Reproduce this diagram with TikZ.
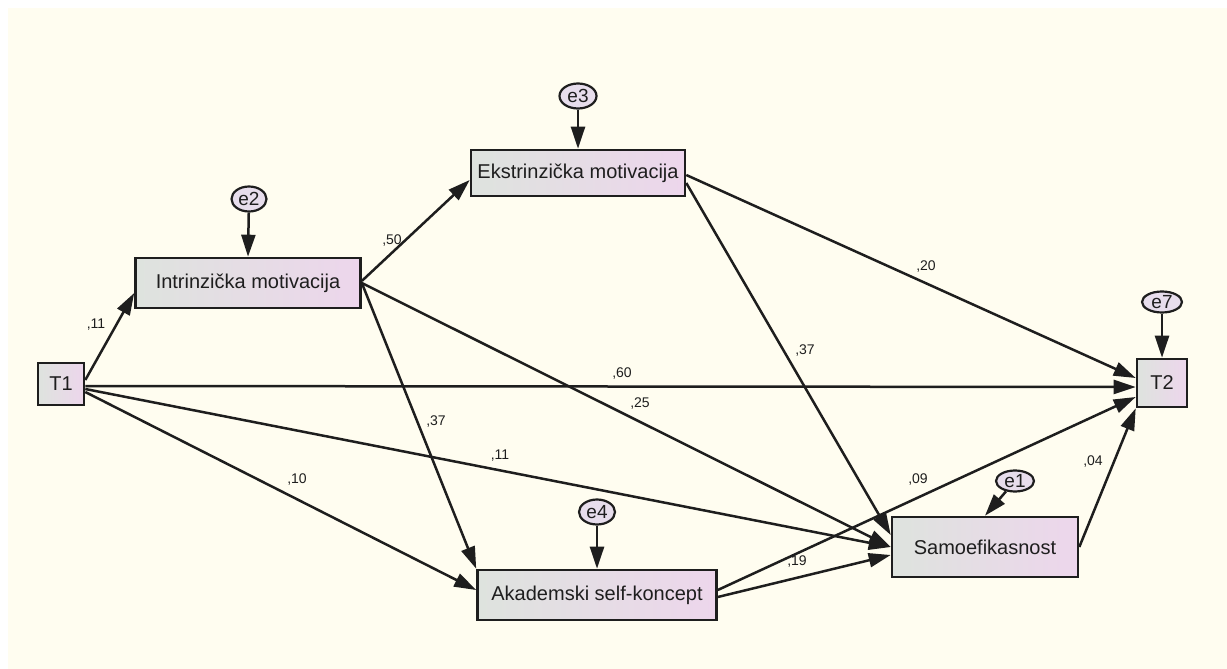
\documentclass[tikz,border=0pt]{standalone}
\usepackage{fontspec}
\setmainfont{Liberation Sans}
\usetikzlibrary{arrows.meta,shapes.geometric}
\definecolor{bgcream}{HTML}{FFFDF0}
\definecolor{boxgray}{HTML}{DEE3DE}
\definecolor{boxpink}{HTML}{EDD6EC}
\definecolor{errfill}{HTML}{E7DDEC}
\definecolor{ink}{HTML}{1E1E1E}
\begin{document}
\begin{tikzpicture}[x=1pt,y=-1pt,
  box/.style={draw=ink,line width=2.6pt,left color=boxgray,right color=boxpink,
    inner sep=0pt,text=ink,font=\fontsize{20}{20}\selectfont},
  err/.style={ellipse,draw=ink,line width=2.2pt,fill=errfill,inner sep=0pt,
    text=ink,font=\fontsize{19}{19}\selectfont},
  link/.style={draw=ink,line width=2.5pt,-{Triangle[length=22pt,width=14pt]}},
  coef/.style={text=ink,font=\fontsize{14}{14}\selectfont}]

% canvas
\fill[white] (0,0) rectangle (1227,669);
\fill[bgcream] (8,8) rectangle (1227,669);
\useasboundingbox (0,0) rectangle (1227,669);

% observed variables
\node[box,minimum width=46pt,minimum height=42pt] (T1) at (61,384) {T1};
\node[box,minimum width=225pt,minimum height=50pt] (IM) at (248,283) {Intrinzička motivacija};
\node[box,minimum width=214pt,minimum height=46pt] (EM) at (578,173) {Ekstrinzička motivacija};
\node[box,minimum width=239pt,minimum height=50pt] (AS) at (597,595) {Akademski self-koncept};
\node[box,minimum width=186pt,minimum height=60pt] (SE) at (985,547) {Samoefikasnost};
\node[box,minimum width=50pt,minimum height=48pt] (T2) at (1162,383) {T2};

% residual terms
\node[err,minimum width=35pt,minimum height=25pt] (e2) at (249,199) {e2};
\node[err,minimum width=37pt,minimum height=25pt] (e3) at (578,96) {e3};
\node[err,minimum width=36pt,minimum height=25pt] (e4) at (597,512) {e4};
\node[err,minimum width=40pt,minimum height=21pt] (e7) at (1162,302) {e7};
\node[err,minimum width=38pt,minimum height=21pt] (e1) at (1015,481) {e1};

% residual paths
\draw[link] (e2) -- (IM.north);
\draw[link] (e3) -- (EM.north);
\draw[link] (e4) -- (AS.north);
\draw[link] (e7) -- (T2.north);
\draw[link] (e1) -- (SE.north);

% structural paths
\draw[link] ([yshift=4pt]T1.east) -- ([yshift=-10pt]IM.west);
\draw[link] ([yshift=-2pt]T1.east) -- ([yshift=-4pt]T2.west);
\draw[link] ([yshift=-5pt]T1.east) -- (SE.west);
\draw[link] ([yshift=-8pt]T1.east) -- ([yshift=5pt]AS.west);
\draw[link] ([yshift=2pt]IM.east) -- ([yshift=-7pt]EM.west);
\draw[link] (IM.east) -- (AS.north west);
\draw[link] (IM.east) -- (SE.west);
\draw[link] ([yshift=-2pt]EM.east) -- ([yshift=5pt]T2.west);
\draw[link] ([yshift=-10pt]EM.east) -- ([yshift=12pt]SE.west);
\draw[link] ([yshift=5pt]AS.east) -- ([yshift=-14pt]T2.west);
\draw[link] ([yshift=-2pt]AS.east) -- ([yshift=-8pt]SE.west);
\draw[link] (SE.east) -- (T2.south west);

% path coefficients
\node[coef] (c1) at (96,325) {,11};
\node[coef] (c2) at (622,374) {,60};
\node[coef] (c3) at (500,456) {,11};
\node[coef] (c4) at (297,480) {,10};
\node[coef] (c5) at (392,241) {,50};
\node[coef] (c6) at (436,422) {,37};
\node[coef] (c7) at (640,404) {,25};
\node[coef] (c8) at (926,267) {,20};
\node[coef] (c9) at (805,351) {,37};
\node[coef] (c10) at (918,480) {,09};
\node[coef] (c11) at (797,562) {,19};
\node[coef] (c12) at (1093,462) {,04};
\end{tikzpicture}
\end{document}
